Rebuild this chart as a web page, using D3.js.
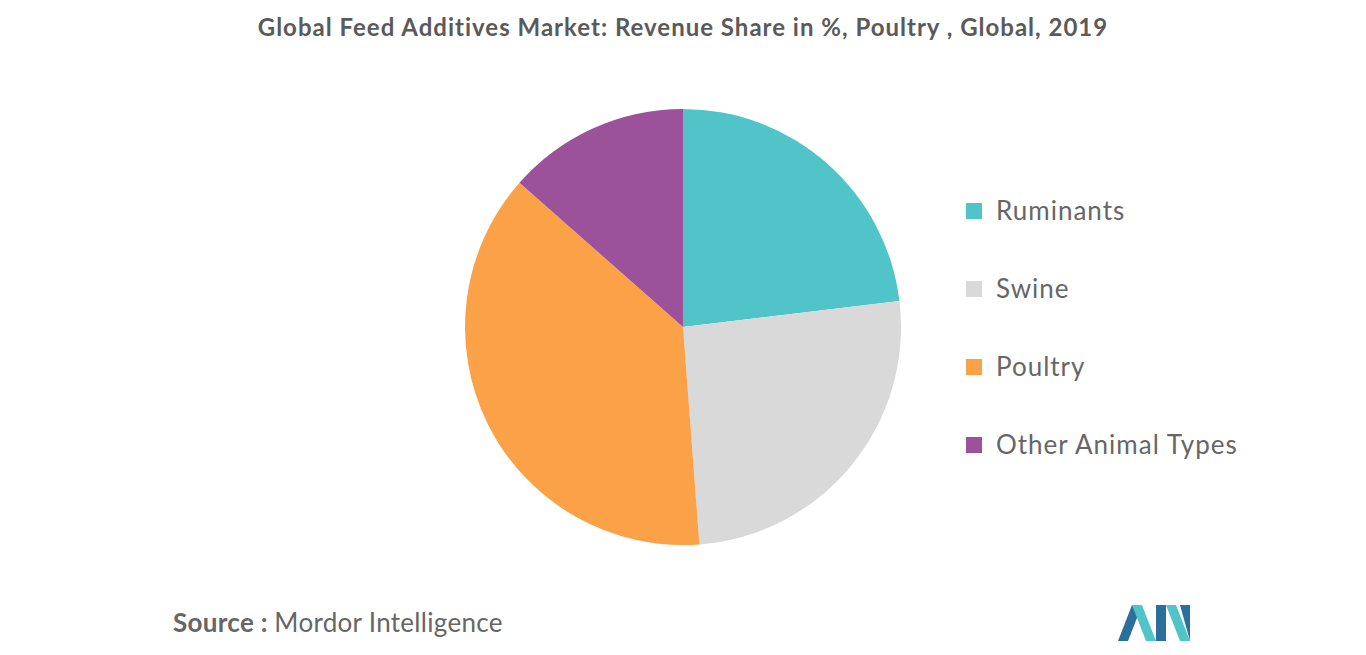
<!DOCTYPE html>
<html><head><meta charset="utf-8">
<script src="https://cdn.jsdelivr.net/npm/d3@7"></script>
<style>body{margin:0;background:#fff}</style>
</head><body>
<svg id="c" width="1366" height="655"></svg>
<script>
const categories = ['Ruminants', 'Swine', 'Poultry', 'Other Animal Types'];
const shares = [23.1, 25.7, 37.7, 13.5];
const colors = ['#50c4c9', '#d9d9d9', '#fba148', '#9c529b'];

const svg = d3.select('#c');
const font = 'Lato, "Open Sans", sans-serif';

svg.append('text')
  .attr('x', 683).attr('y', 36)
  .attr('text-anchor', 'middle')
  .attr('font-family', font).attr('font-weight', 'bold').attr('font-size', 24)
  .attr('letter-spacing', 1).attr('fill', '#5a5a5a')
  .text('Global Feed Additives Market: Revenue Share in %, Poultry , Global, 2019');

const pie = d3.pie().sort(null).value(d => d);
const arc = d3.arc().innerRadius(0).outerRadius(218);
svg.append('g').attr('transform', 'translate(683,327)')
  .selectAll('path').data(pie(shares)).enter().append('path')
  .attr('d', arc)
  .attr('fill', (d, i) => colors[i]);

const legendY = d3.scalePoint().domain(categories).range([211, 445]);
const lg = svg.append('g').selectAll('g').data(categories).enter().append('g')
  .attr('transform', d => `translate(966,${legendY(d)})`);
lg.append('rect').attr('x', 0).attr('y', -8).attr('width', 16).attr('height', 16)
  .attr('fill', (d, i) => colors[i]);
lg.append('text').attr('x', 30).attr('y', 9)
  .attr('font-family', font).attr('font-size', 26).attr('letter-spacing', 1)
  .attr('fill', '#666')
  .text(d => d);

const src = svg.append('text').attr('x', 173).attr('y', 632)
  .attr('font-family', font).attr('font-size', 26).attr('letter-spacing', 0.3)
  .attr('fill', '#666');
src.append('tspan').attr('font-weight', 'bold').text('Source : ');
src.append('tspan').text('Mordor Intelligence');

// logo
const logo = svg.append('g').attr('transform', 'translate(1118,605)');
logo.append('path').attr('d', 'M0,36 L14,0 L24,0 L10,36 Z').attr('fill', '#2b6f9b');
logo.append('path').attr('d', 'M14,0 L24,0 L38,36 L28,36 Z').attr('fill', '#50c4c9');
logo.append('path').attr('d', 'M38,36 L38,0 L48,0 L48,36 Z').attr('fill', '#2b6f9b');
logo.append('path').attr('d', 'M48,0 L58,0 L72,36 L62,36 Z').attr('fill', '#50c4c9');
logo.append('path').attr('d', 'M62,0 L72,0 L72,36 Z').attr('fill', '#2b6f9b');
</script>
</body></html>
